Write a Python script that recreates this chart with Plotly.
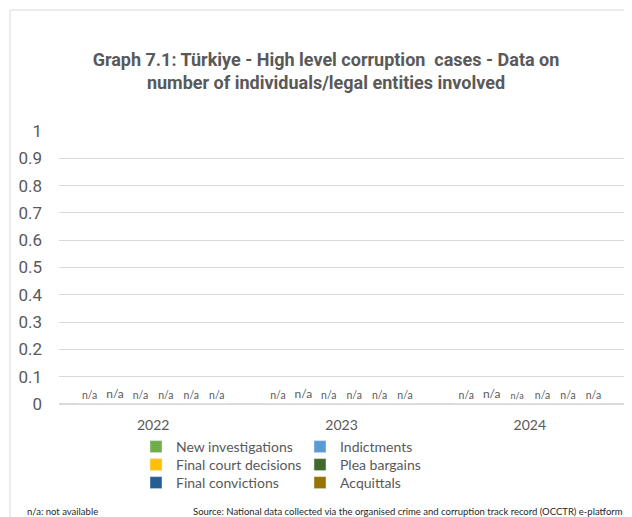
import plotly.graph_objects as go

# ---- data ----
categories = ["2022", "2023", "2024"]
series_names = ["New investigations", "Indictments", "Final court decisions",
                "Plea bargains", "Final convictions", "Acquittals"]
series_values = {
    "New investigations": [0, 0, 0],
    "Indictments": [0, 0, 0],
    "Final court decisions": [0, 0, 0],
    "Plea bargains": [0, 0, 0],
    "Final convictions": [0, 0, 0],
    "Acquittals": [0, 0, 0],
}
value_labels = ["n/a", "n/a", "n/a"]
series_colors = ["#70AD47", "#5B9BD5", "#FFC000", "#43682B", "#255E91", "#997300"]
label_sizes = {
    "New investigations": [10.5, 10.5, 10.5],
    "Indictments": [12, 12, 12],
    "Final court decisions": [10.5, 10.5, 9],
    "Plea bargains": [10.5, 10.5, 10.5],
    "Final convictions": [10.5, 10.5, 10.5],
    "Acquittals": [10.5, 10.5, 10.5],
}
legend_rows = {
    "New investigations": "legend", "Indictments": "legend",
    "Final court decisions": "legend2", "Plea bargains": "legend2",
    "Final convictions": "legend3", "Acquittals": "legend3",
}
y_ticks = [0, 0.1, 0.2, 0.3, 0.4, 0.5, 0.6, 0.7, 0.8, 0.9, 1]

# ---- layout geometry (pixels, page has an 8px body margin) ----
OFF = 8
W, H = 632 - OFF, 517 - OFF
L, R, T, B = 59 - OFF, 8, 131 - OFF, 517 - 404
PW, PH = W - L - R, H - T - B


def px(x):
    return (x - OFF - L) / PW


def py(y):
    return (H - B - (y - OFF)) / PH


GREY = "#595959"
fig = go.Figure()
for name, color in zip(series_names, series_colors):
    fig.add_trace(go.Bar(
        name=name, x=categories, y=series_values[name],
        marker_color=color, text=value_labels, textposition="outside",
        textfont=dict(family="Lato", size=label_sizes[name], color=GREY),
        cliponaxis=False, legend=legend_rows[name], hoverinfo="skip",
    ))

legend_common = dict(orientation="h", xanchor="left", yanchor="middle",
                     font=dict(family="Lato", size=14, color=GREY),
                     entrywidth=119, bgcolor="rgba(0,0,0,0)", itemclick=False,
                     itemdoubleclick=False)

fig.update_layout(
    width=W, height=H,
    margin=dict(l=L, r=R, t=T, b=B, autoexpand=False),
    paper_bgcolor="white", plot_bgcolor="white",
    barmode="group", bargap=0.19, bargroupgap=0,
    title=dict(
        text="Graph 7.1: Türkiye - High level corruption  cases - Data on<br>number of individuals/legal entities involved",
        x=(326 - OFF) / W, xref="container", xanchor="center",
        y=1 - (66 - OFF) / H, yref="container", yanchor="middle",
        font=dict(family="Roboto", size=18, color=GREY, weight="bold"),
    ),
    xaxis=dict(showgrid=False, showline=False, ticks="", zeroline=False,
               tickfont=dict(family="Lato", size=14, color=GREY),
               ticklabelstandoff=11),
    yaxis=dict(range=[0, 1], tickvals=y_ticks, showgrid=True, gridcolor="#D9D9D9",
               gridwidth=1, zeroline=True, zerolinecolor="#D9D9D9", showline=False,
               tickfont=dict(family="Roboto", size=17, color=GREY),
               ticklabelstandoff=16),
    legend=dict(x=px(136), y=py(447), **legend_common),
    legend2=dict(x=px(136), y=py(465), **legend_common),
    legend3=dict(x=px(136), y=py(483), **legend_common),
    showlegend=True,
)

# chart border (top and left edges visible)
fig.add_shape(type="line", xref="paper", yref="paper", x0=px(10), x1=px(640),
              y0=py(10), y1=py(10), line=dict(color="#D9D9D9", width=1))
fig.add_shape(type="line", xref="paper", yref="paper", x0=px(10), x1=px(10),
              y0=py(10), y1=py(525), line=dict(color="#D9D9D9", width=1))

fig.add_annotation(text="n/a: not available", xref="paper", yref="paper",
                   x=px(25), y=py(511), xanchor="left", yanchor="middle",
                   showarrow=False, font=dict(family="Lato", size=9.5, color="#262626"))
fig.add_annotation(text="Source: National data collected via the organised crime and corruption track record (OCCTR) e-platform",
                   xref="paper", yref="paper", x=px(625), y=py(511),
                   xanchor="right", yanchor="middle", showarrow=False,
                   font=dict(family="Lato", size=9.5, color="#262626"))

fig.write_html("out.html")
